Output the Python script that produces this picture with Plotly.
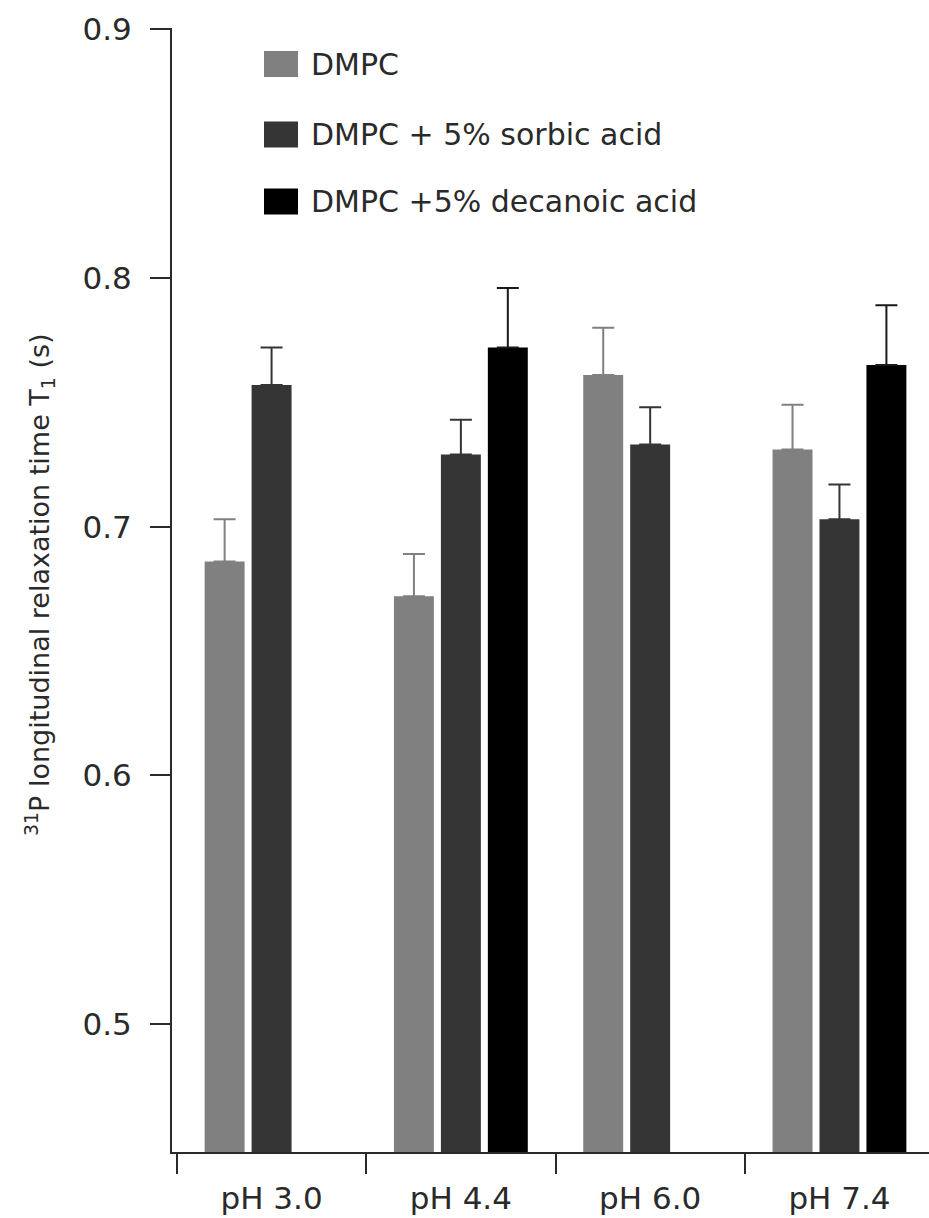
import plotly.graph_objects as go

# ---- data ----
categories = ["pH 3.0", "pH 4.4", "pH 6.0", "pH 7.4"]
series_names = ["DMPC", "DMPC + 5% sorbic acid", "DMPC +5% decanoic acid"]
dmpc = [0.686, 0.672, 0.761, 0.731]
dmpc_err = [0.017, 0.017, 0.019, 0.018]
sorbic = [0.757, 0.729, 0.733, 0.703]
sorbic_err = [0.015, 0.014, 0.015, 0.014]
decanoic = [None, 0.772, None, 0.765]
decanoic_err = [None, 0.024, None, 0.024]
y_ticks = [0.5, 0.6, 0.7, 0.8, 0.9]
y_tick_labels = ["0.5", "0.6", "0.7", "0.8", "0.9"]
y_title = "<sup>31</sup>P longitudinal relaxation time T<sub>1</sub> (s)"

# ---- styles ----
bar_colors = ["#808080", "#353535", "#000000"]
err_colors = ["#808080", "#353535", "#1a1a1a"]
axis_color = "#2a2a2a"
text_color = "#2a2a2a"
FONT = "DejaVu Sans"

W, H = 929, 1218
ML, MR, MT, MB = 172, 0, 28, 66
PW, PH = W - ML - MR, H - MT - MB


def px_x(px):
    return (px - ML) / PW


def px_y(py):
    return (H - MB - py) / PH


fig = go.Figure()
for name, vals, errs, col, ecol in zip(
    series_names,
    [dmpc, sorbic, decanoic],
    [dmpc_err, sorbic_err, decanoic_err],
    bar_colors,
    err_colors,
):
    fig.add_trace(
        go.Bar(
            name=name,
            x=categories,
            y=vals,
            marker=dict(color=col, line=dict(width=0)),
            error_y=dict(
                type="data",
                array=errs,
                arrayminus=[0 if e is not None else None for e in errs],
                symmetric=False,
                color=ecol,
                thickness=2,
                width=11,
            ),
            showlegend=False,
        )
    )

# legend drawn as swatches + text
legend_rows = [64, 134.5, 201.5]
shapes = []
annotations = []
for name, col, cy in zip(series_names, bar_colors, legend_rows):
    shapes.append(
        dict(
            type="rect",
            xref="paper",
            yref="paper",
            x0=px_x(264),
            x1=px_x(298),
            y0=px_y(cy + 13),
            y1=px_y(cy - 13),
            fillcolor=col,
            line=dict(width=0),
        )
    )
    annotations.append(
        dict(
            xref="paper",
            yref="paper",
            x=px_x(309),
            y=px_y(cy),
            xanchor="left",
            yanchor="middle",
            text=name,
            showarrow=False,
            font=dict(family=FONT, size=30, color=text_color),
        )
    )

annotations.append(
    dict(
        xref="paper",
        yref="paper",
        x=px_x(39),
        y=px_y(585),
        xanchor="center",
        yanchor="middle",
        text=y_title,
        textangle=-90,
        showarrow=False,
        font=dict(family=FONT, size=27, color=text_color),
    )
)

fig.update_layout(
    width=W,
    height=H,
    margin=dict(l=ML, r=MR, t=MT, b=MB, pad=0),
    paper_bgcolor="white",
    plot_bgcolor="white",
    barmode="group",
    bargap=0.256,
    bargroupgap=0.149,
    shapes=shapes,
    annotations=annotations,
    font=dict(family=FONT, color=text_color),
    xaxis=dict(
        type="category",
        range=[-0.526, 3.473],
        tickson="boundaries",
        ticks="outside",
        ticklen=20,
        tickwidth=2,
        tickcolor=axis_color,
        showline=True,
        linecolor=axis_color,
        linewidth=2,
        showgrid=False,
        zeroline=False,
        ticklabelstandoff=18,
        tickfont=dict(family=FONT, size=31, color=text_color),
    ),
    yaxis=dict(
        range=[0.4486, 0.9005],
        tickmode="array",
        tickvals=y_ticks,
        ticktext=y_tick_labels,
        ticks="outside",
        ticklen=20,
        tickwidth=2,
        tickcolor=axis_color,
        showline=True,
        linecolor=axis_color,
        linewidth=2,
        showgrid=False,
        zeroline=False,
        ticklabelstandoff=12,
        tickfont=dict(family=FONT, size=31, color=text_color),
    ),
)

fig.write_html(
    "out.html",
    config={"displayModeBar": False},
    post_script="document.body.style.margin='0px';document.body.style.overflow='hidden';",
)
